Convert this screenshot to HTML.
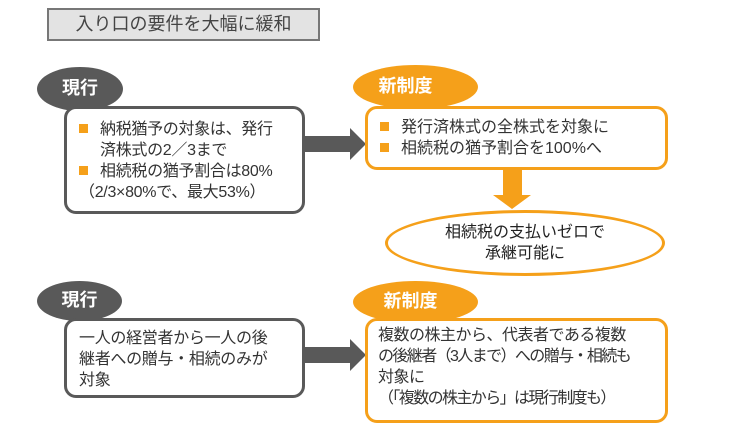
<!DOCTYPE html><html><head><meta charset="utf-8"><style>
body{margin:0;width:733px;height:433px;background:#fff;position:relative;overflow:hidden;font-family:"Liberation Sans","Noto Sans CJK JP",sans-serif;color:#333}
div{position:absolute;box-sizing:border-box}
.t{left:47px;top:8px;width:273px;height:33px;background:#e3e3e3;border:2px solid #777;font-size:18px;line-height:29px;text-align:center;color:#444}
.eg{background:#595959;border-radius:50%;color:#fff;font-weight:bold;font-size:18px;text-align:center}
.eo{background:#f5a01a;border-radius:50%;color:#fff;font-weight:bold;font-size:18px;text-align:center}
.bg{border:3px solid #595959;border-radius:12px;background:#fff;font-size:16px;line-height:21px}
.bo{border:3px solid #f5a01a;border-radius:12px;background:#fff;font-size:16px;line-height:21px}
.sq{display:inline-block;width:9px;height:9px;background:#f5a01a;margin-right:12px;vertical-align:1px}
</style></head><body>
<div class="t">入り口の要件を大幅に緩和</div>
<div class="eg" style="left:37px;top:67px;width:86px;height:44px;line-height:42px">現行</div>
<div class="bg" style="left:64px;top:106px;width:241px;height:108px;padding:10px 4px 0 12px;letter-spacing:-0.3px">
<div style="position:static"><span class="sq"></span>納税猶予の対象は、発行<br><span style="padding-left:21px">済株式の2／3まで</span><br><span class="sq"></span>相続税の猶予割合は80%<br>（2/3×80%で、最大53%）</div></div>
<svg style="position:absolute;left:0;top:0" width="733" height="433">
<polygon points="305,136 350,136 350,128 366,144 350,160 350,152 305,152" fill="#595959"/>
<polygon points="305,347 350,347 350,339 366,355 350,371 350,363 305,363" fill="#595959"/>
<polygon points="503,170 522,170 522,195 531,195 512,209 493,195 503,195" fill="#f5a01a"/>
</svg>
<div class="eo" style="left:353px;top:65px;width:125px;height:44px;line-height:42px;padding-right:20px">新制度</div>
<div class="bo" style="left:365px;top:106px;width:303px;height:64px;padding:8px 8px 0 12px">
<div style="position:static"><span class="sq"></span>発行済株式の全株式を対象に<br><span class="sq"></span>相続税の猶予割合を100%へ</div></div>
<div style="left:385px;top:210px;width:280px;height:66px;border:3px solid #f5a01a;border-radius:50%;background:#fff;font-size:16px;line-height:21px;text-align:center;padding-top:9px;color:#222">相続税の支払いゼロで<br>承継可能に</div>
<div class="eg" style="left:37px;top:281px;width:85px;height:40px;line-height:38px">現行</div>
<div class="bg" style="left:64px;top:318px;width:241px;height:80px;padding:7px 4px 0 12px;letter-spacing:-0.3px">一人の経営者から一人の後<br>継者への贈与・相続のみが<br>対象</div>
<div class="eo" style="left:353px;top:281px;width:125px;height:42px;line-height:40px;padding-right:10px">新制度</div>
<div class="bo" style="left:365px;top:318px;width:303px;height:105px;padding:4px 4px 0 10px;letter-spacing:-0.5px">複数の株主から、代表者である複数<br><span style="letter-spacing:-1.6px">の後継者（3人まで）への贈与・相続も</span><br>対象に<br><span style="letter-spacing:-1.6px">（「複数の株主から」は現行制度も）</span></div>
</body></html>
